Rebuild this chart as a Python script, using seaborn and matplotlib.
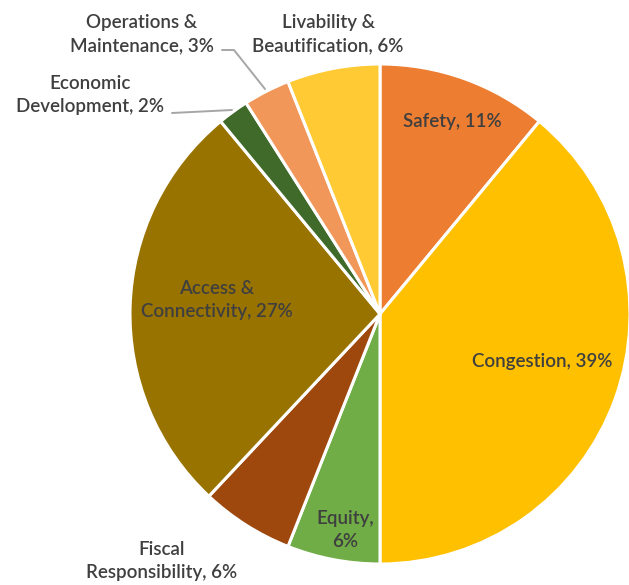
import numpy as np
import matplotlib
matplotlib.use("Agg")
import matplotlib.pyplot as plt
import seaborn as sns

# -------------------------------
# Data
# -------------------------------
categories = ["Safety", "Congestion", "Equity", "Fiscal\nResponsibility",
              "Access &\nConnectivity", "Economic\nDevelopment",
              "Operations &\nMaintenance", "Livability &\nBeautification"]
shares = [11, 39, 6, 6, 27, 2, 3, 6]
label_text = ["Safety, 11%", "Congestion, 39%", "Equity,\n6%",
              "Fiscal\nResponsibility, 6%", "Access &\nConnectivity, 27%",
              "Economic\nDevelopment, 2%", "Operations &\nMaintenance, 3%",
              "Livability &\nBeautification, 6%"]
colors = ["#ED7D31", "#FFC000", "#70AD47", "#9E480E",
          "#997300", "#3F6A2A", "#F1975A", "#FFCA33"]

# -------------------------------
# Style
# -------------------------------
sns.set_theme(style="white")
plt.rcParams['font.family'] = ['Lato', 'DejaVu Sans']

W, H = 629, 585
fig = plt.figure(figsize=(W / 100, H / 100), dpi=100)
ax = fig.add_axes([0, 0, 1, 1])

cx, cy, r = 380, H - 314, 250
wedges, _ = ax.pie(shares, colors=sns.color_palette(colors), startangle=90,
                   counterclock=False, center=(cx, cy), radius=r,
                   wedgeprops=dict(edgecolor="white", linewidth=2.2),
                   frame=True)
ax.set_xlim(0, W)
ax.set_ylim(0, H)
ax.set_aspect("equal")
ax.axis("off")

# label positions in image pixels (x, y from top)
label_pos = [(452, 122), (542, 362), (345, 530), (162, 561),
             (217, 300), (90, 95), (142, 34), (328, 34)]
txt_color = "#3F3F3F"
for txt, (x, y) in zip(label_text, label_pos):
    ax.text(x, H - y, txt, ha="center", va="center", fontsize=13.5,
            color=txt_color, linespacing=1.4, fontweight="semibold")

# leader lines for the small slices
ax.plot([172, 232], [H - 113, H - 110], color="#A6A6A6", lw=1.4)
ax.plot([222, 234, 265], [H - 50, H - 50, H - 89], color="#A6A6A6", lw=1.4)

fig.savefig("out.png", dpi=100, facecolor="white")
